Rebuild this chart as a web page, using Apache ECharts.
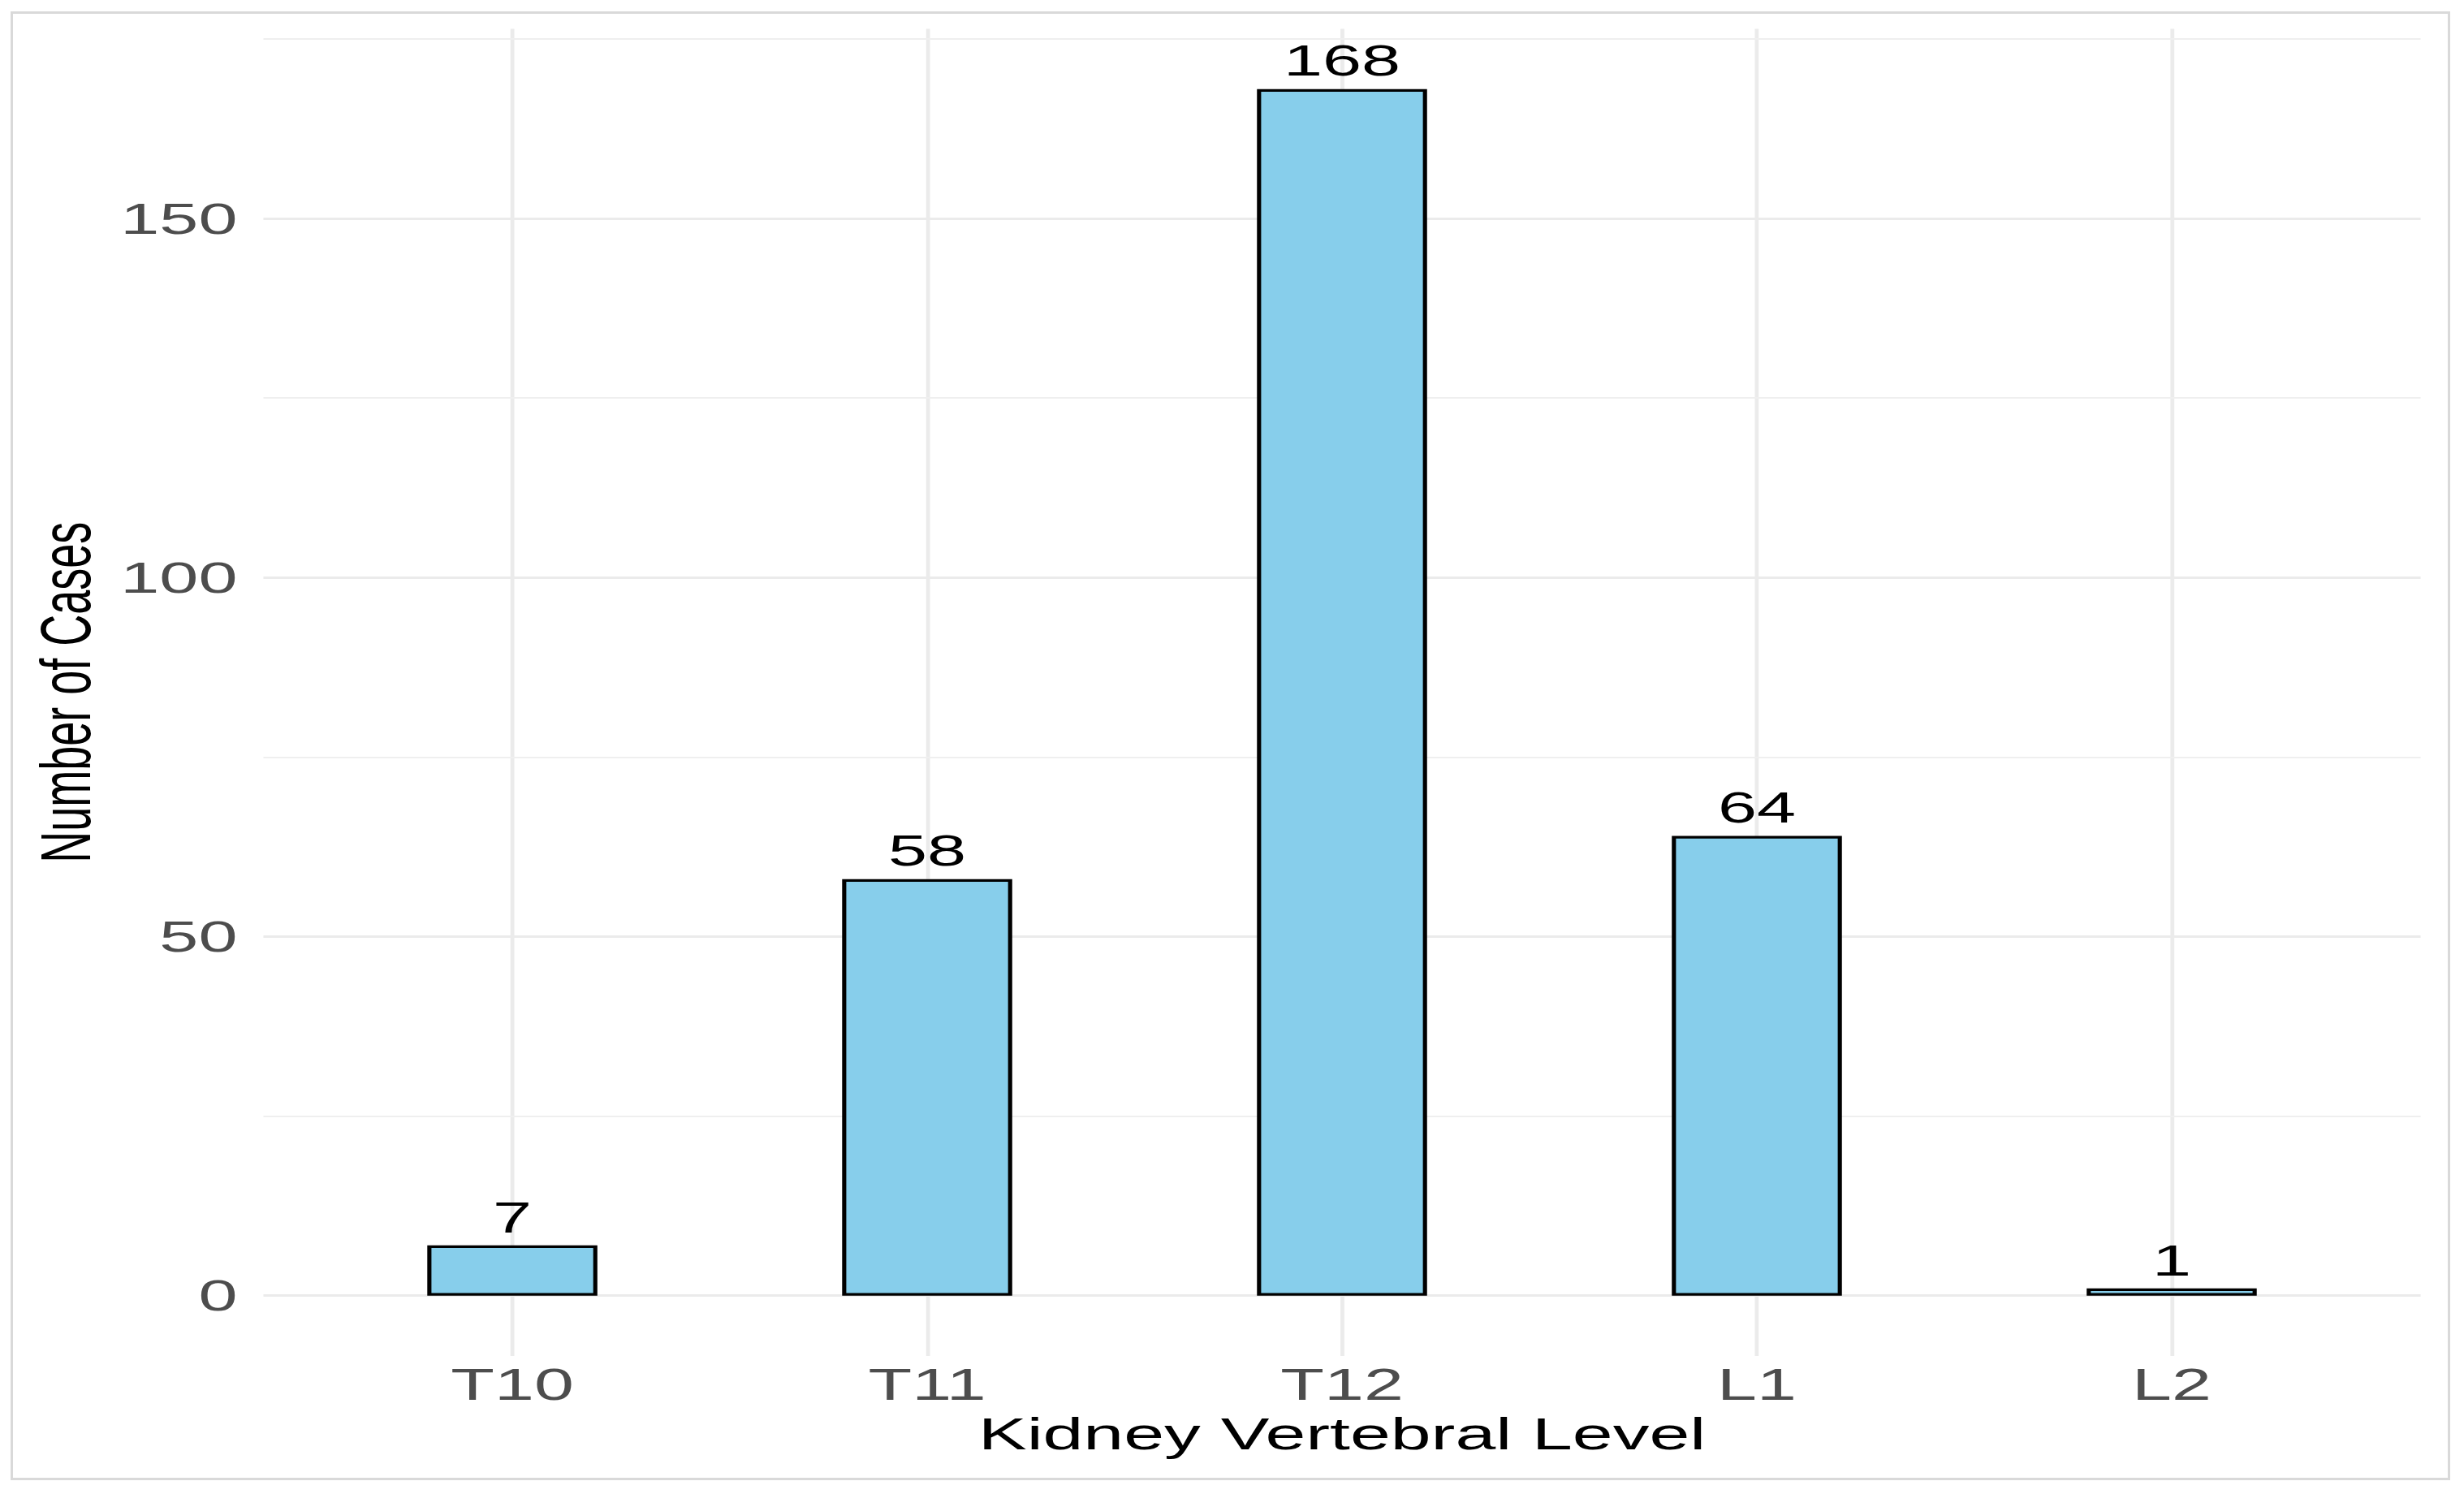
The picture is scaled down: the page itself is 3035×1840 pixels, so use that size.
<!DOCTYPE html>
<html>
<head>
<meta charset="utf-8">
<script src="https://cdn.jsdelivr.net/npm/echarts@6/dist/echarts.min.js"></script>
<style>
  html, body { margin: 0; padding: 0; background: #ffffff; overflow: hidden; }
  #stage { position: relative; width: 3035px; height: 1840px; overflow: hidden; background: #fff; }
  #chart { position: absolute; left: 0; top: 0; width: 1897px; height: 1840px; transform-origin: 0 0; }
  #frame { position: absolute; left: 13px; top: 14px; width: 3005px; height: 1809px; box-sizing: border-box; border: 3px solid #d9d9d9; pointer-events: none; }
</style>
</head>
<body>
<div id="stage">
  <div id="chart"></div>
  <div id="frame"></div>
</div>
<script>
// ---- data ----
const categories = ['T10', 'T11', 'T12', 'L1', 'L2'];
const caseCounts = [7, 58, 168, 64, 1];
const yTickValues = [0, 50, 100, 150];
const yMinorValues = [25, 75, 125, 175];
const xTitle = 'Kidney Vertebral Level';
const yTitle = 'Number of Cases';

// ---- layout ----
const chartEl = document.getElementById('chart');
const sx = 3035 / 1897;
chartEl.style.transform = 'scale(' + sx + ', 1)';

const FONT = '"Liberation Sans", Arial, sans-serif';
const catIdx = categories.map((c, i) => i);
const barData = caseCounts.map((v, i) => [i, v]);

const gridLines = []
  .concat(catIdx.map(i => ({ xAxis: i, lineStyle: { color: '#EBEBEB', width: 3, type: 'solid' } })))
  .concat(yTickValues.map(v => ({ yAxis: v, lineStyle: { color: '#EBEBEB', width: 3, type: 'solid' } })))
  .concat(yMinorValues.map(v => ({ yAxis: v, lineStyle: { color: '#EFEFEF', width: 1.8, type: 'solid' } })));

const chart = echarts.init(chartEl, null, { renderer: 'svg' });
chart.setOption({
  animation: false,
  backgroundColor: 'transparent',
  grid: { left: 202.8, right: 33.4, top: 35.4, bottom: 170, containLabel: false },
  xAxis: {
    type: 'value',
    min: -0.6,
    max: 4.6,
    name: xTitle,
    nameLocation: 'middle',
    nameGap: 67,
    nameTextStyle: { color: '#000000', fontSize: 56, fontFamily: FONT },
    axisLine: { show: false },
    axisTick: { show: false, customValues: catIdx },
    splitLine: { show: false },
    axisLabel: {
      customValues: catIdx,
      margin: 8,
      color: '#4D4D4D',
      fontSize: 55,
      fontFamily: FONT,
      formatter: v => (Number.isInteger(v) && categories[v] !== undefined ? categories[v] : '')
    }
  },
  yAxis: {
    type: 'value',
    min: -8.4,
    max: 176.4,
    name: yTitle,
    nameLocation: 'middle',
    nameGap: 125,
    nameRotate: 90,
    nameTextStyle: { color: '#000000', fontSize: 54, fontFamily: FONT },
    axisLine: { show: false },
    axisTick: { show: false, customValues: yTickValues },
    splitLine: { show: false },
    axisLabel: {
      customValues: yTickValues,
      margin: 20,
      color: '#4D4D4D',
      fontSize: 54,
      fontFamily: FONT,
      formatter: v => (yTickValues.indexOf(v) >= 0 ? String(v) : '')
    }
  },
  series: [{
    type: 'bar',
    data: barData,
    barWidth: '41%',
    z: 2,
    itemStyle: { color: '#87CEEB', borderColor: '#000000', borderWidth: 3.2 },
    label: {
      show: true,
      position: 'top',
      distance: 8,
      color: '#000000',
      fontSize: 54,
      fontFamily: FONT,
      formatter: p => String(p.value[1])
    },
    emphasis: { disabled: true },
    markLine: {
      silent: true,
      z: 1,
      symbol: ['none', 'none'],
      label: { show: false },
      emphasis: { disabled: true },
      data: gridLines
    }
  }]
});
</script>
</body>
</html>
